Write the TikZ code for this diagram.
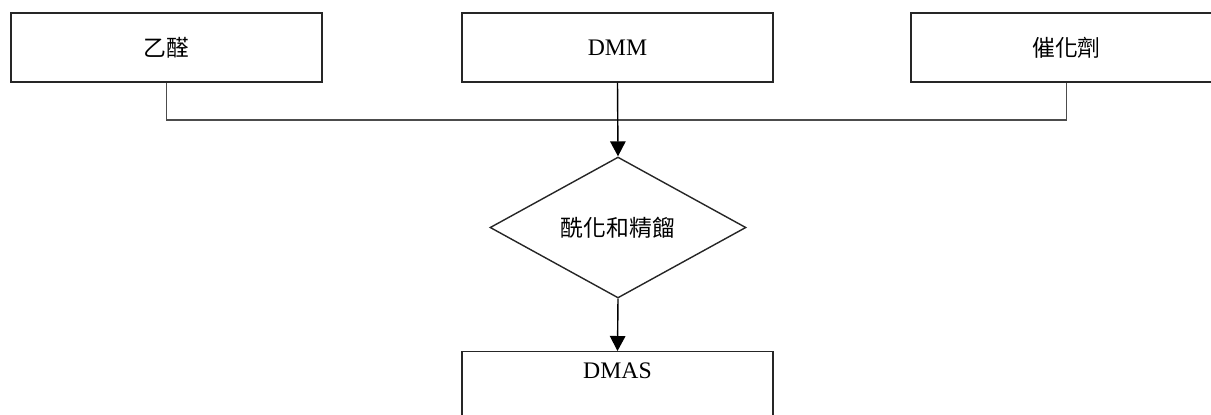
\documentclass[tikz,border=0pt]{standalone}
\usepackage{fontspec}
\setmainfont{Liberation Serif}
\newfontfamily\cjk{Noto Sans CJK TC}
\usetikzlibrary{shapes.geometric,arrows.meta}

\begin{document}
\begin{tikzpicture}[x=0.02cm, y=-0.02cm,
    box/.style={draw=black!85, line width=0.8pt, minimum width=6.22cm, minimum height=1.38cm, inner sep=0pt, font=\fontsize{13.5pt}{16pt}\selectfont},
    flow/.style={draw=black!70, line width=0.8pt},
    tip/.style={-{Triangle[length=0.3cm, width=0.31cm]}, black}]
        \useasboundingbox (0, 0) rectangle (1211, 414);
        \clip (0, 0) rectangle (1211, 414);
        \node[box] at (166.5, 47.5) (acet) {\cjk\fontsize{13pt}{16pt}\selectfont 乙醛};
        \node[box] at (617.5, 47.5) (dmm) {DMM};
        \node[box] at (1066.5, 47.5) (cat) {\cjk\fontsize{13pt}{16pt}\selectfont 催化劑};
        \node[draw=black!85, line width=0.8pt, diamond, aspect=1.8, minimum width=5.12cm, minimum height=2.82cm, inner sep=0pt] at (618, 227.5) (react) {\cjk\fontsize{13pt}{16pt}\selectfont 酰化和精餾};
        \node[box, anchor=north, text height=0.54cm, text depth=0.84cm] at (617.5, 351) (dmas) {DMAS};
        \coordinate (join) at (617.5, 120);
        \draw [flow] (acet.south) |- (join) -| (cat.south);
        \draw [flow, tip] (dmm.south) -- (react.north);
        \draw [flow, tip] (react.south) -- (dmas.north);
    \end{tikzpicture}
\end{document}
